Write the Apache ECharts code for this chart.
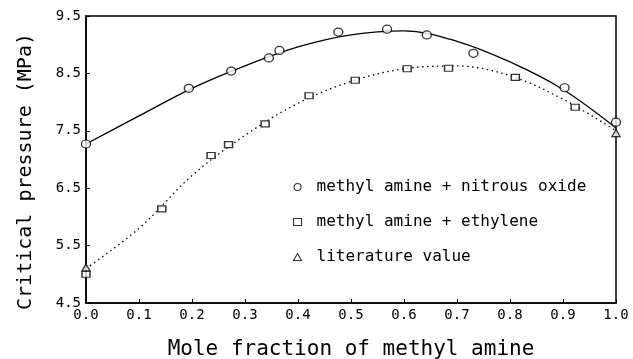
<!DOCTYPE html>
<html><head><meta charset="utf-8">
<script src="https://cdn.jsdelivr.net/npm/echarts@6/dist/echarts.min.js"></script>
<style>html,body{margin:0;padding:0;background:#fff}#c{width:633px;height:359px}</style>
</head><body><div id="c"></div>
<script>
// Measured points
var xNitrous = [0.0, 0.194, 0.274, 0.345, 0.365, 0.476, 0.568, 0.643, 0.731, 0.903, 1.0];
var yNitrous = [7.27, 8.24, 8.54, 8.77, 8.90, 9.22, 9.27, 9.17, 8.85, 8.25, 7.65];
var xEthylene = [0.0, 0.143, 0.236, 0.269, 0.338, 0.421, 0.508, 0.606, 0.684, 0.810, 0.923];
var yEthylene = [5.00, 6.14, 7.07, 7.26, 7.62, 8.11, 8.38, 8.58, 8.59, 8.43, 7.91];
var xLiterature = [0.0, 1.0];
var yLiterature = [5.12, 7.46];
// Fitted curves
var xCurve = [0.0, 0.1, 0.2, 0.3, 0.4, 0.5, 0.6, 0.7, 0.8, 0.9, 1.0];
var ySolidCurve = [7.27, 7.76, 8.24, 8.63, 8.96, 9.17, 9.24, 9.06, 8.70, 8.22, 7.55];
var yDottedCurve = [5.10, 5.80, 6.72, 7.42, 7.98, 8.36, 8.58, 8.63, 8.46, 8.05, 7.50];
var xTicks = ['0.0','0.1','0.2','0.3','0.4','0.5','0.6','0.7','0.8','0.9','1.0'];
var legendNames = ['methyl amine + nitrous oxide', 'methyl amine + ethylene', 'literature value'];

function zip(a, b) { return a.map(function (v, i) { return [v, b[i]]; }); }
var F = 'DejaVu Sans Mono';
var chart = echarts.init(document.getElementById('c'), null, {renderer: 'canvas'});
chart.setOption({
  animation: false,
  backgroundColor: '#fff',
  grid: {left: 86, right: 17, top: 16, bottom: 56, show: true, borderColor: '#000', borderWidth: 1.5,
    containLabel: false, outerBoundsMode: 'none'},
  legend: {
    orient: 'vertical', left: 288, top: 174, itemWidth: 8, itemHeight: 7, itemGap: 19,
    data: [
      {name: legendNames[0], icon: 'circle'},
      {name: legendNames[1], icon: 'rect'},
      {name: legendNames[2], icon: 'triangle'}
    ],
    itemStyle: {color: '#fff', borderColor: '#000', borderWidth: 1.1},
    textStyle: {fontFamily: F, fontSize: 16, color: '#000', padding: [0, 0, 0, 10]}
  },
  xAxis: {
    type: 'value', min: 0, max: 1, interval: 0.1,
    name: 'Mole fraction of methyl amine', nameLocation: 'middle', nameGap: 36,
    nameTextStyle: {fontFamily: F, fontSize: 21, color: '#000'},
    axisLine: {show: true, lineStyle: {color: '#000', width: 1.5}},
    axisTick: {show: true, inside: true, length: 4, lineStyle: {color: '#000'}},
    splitLine: {show: false},
    axisLabel: {fontFamily: F, fontSize: 14, color: '#000', margin: 5,
      formatter: function (v) { return xTicks[Math.round(v * 10)]; }}
  },
  yAxis: {
    type: 'value', min: 4.5, max: 9.5, interval: 1,
    name: 'Critical pressure (MPa)', nameLocation: 'middle', nameGap: 50,
    nameTextStyle: {fontFamily: F, fontSize: 20, color: '#000', padding: [0, 24, 0, 0]},
    axisLine: {show: true, lineStyle: {color: '#000', width: 1.5}},
    axisTick: {show: true, inside: true, length: 4, lineStyle: {color: '#000'}},
    splitLine: {show: false},
    axisLabel: {fontFamily: F, fontSize: 14, color: '#000', margin: 5,
      formatter: function (v) { return v.toFixed(1); }}
  },
  series: [
    {type: 'line', name: 'fit1', data: zip(xCurve, ySolidCurve), smooth: 0.35, showSymbol: false, silent: true,
      lineStyle: {color: '#000', width: 1.3, type: 'solid'}, z: 1},
    {type: 'line', name: 'fit2', data: zip(xCurve, yDottedCurve), smooth: 0.35, showSymbol: false, silent: true,
      lineStyle: {color: '#000', width: 1.3, type: [1.5, 3.5]}, z: 1},
    {type: 'scatter', name: legendNames[0], data: zip(xNitrous, yNitrous), symbol: 'circle', symbolSize: [9, 8],
      itemStyle: {color: '#fff', borderColor: '#000', borderWidth: 1.3}, z: 3},
    {type: 'scatter', name: legendNames[1], data: zip(xEthylene, yEthylene), symbol: 'rect', symbolSize: [8, 6],
      itemStyle: {color: '#fff', borderColor: '#000', borderWidth: 1.3}, z: 3},
    {type: 'scatter', name: legendNames[2], data: zip(xLiterature, yLiterature), symbol: 'triangle', symbolSize: [8, 7],
      itemStyle: {color: '#fff', borderColor: '#000', borderWidth: 1.3}, z: 3}
  ]
});
</script></body></html>
